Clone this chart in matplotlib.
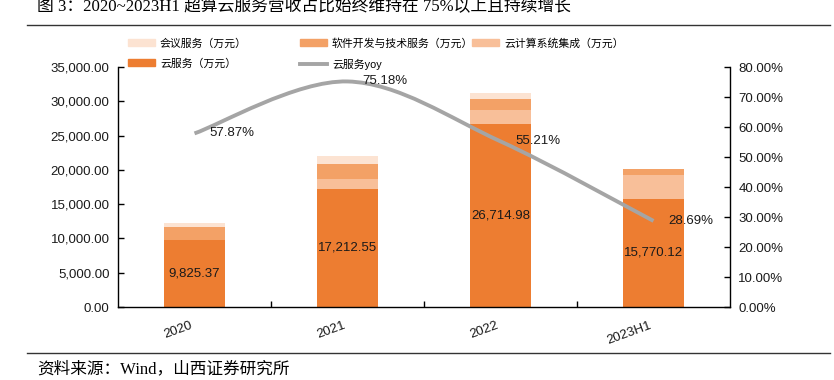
import matplotlib
matplotlib.use("Agg")
import matplotlib.pyplot as plt
from matplotlib.path import Path
from matplotlib.patches import PathPatch, Patch
from matplotlib.lines import Line2D
from matplotlib.ticker import FuncFormatter, FixedLocator

# ---------------- data ----------------
categories = ["2020", "2021", "2022", "2023H1"]
cloud_service = [9825.37, 17212.55, 26714.98, 15770.12]      # 云服务（万元）
cloud_integration = [0, 1460, 1970, 3500]                    # 云计算系统集成（万元）
software_service = [1850, 2230, 1660, 875]                   # 软件开发与技术服务（万元）
meeting_service = [580, 1070, 875, 0]                        # 会议服务（万元）
cloud_yoy = [57.87, 75.18, 55.21, 28.69]                     # 云服务yoy (%)

left_ticks = [0, 5000, 10000, 15000, 20000, 25000, 30000, 35000]
right_ticks = [0, 10, 20, 30, 40, 50, 60, 70, 80]

title_text = "图 3：2020~2023H1 超算云服务营收占比始终维持在 75%以上且持续增长"
source_text = "资料来源：Wind，山西证券研究所"

# ---------------- style ----------------
C_CLOUD = "#ED7D31"
C_INTEG = "#F8BF99"
C_SOFT = "#F3A166"
C_MEET = "#FCE3D2"
C_YOY = "#A5A5A5"

SANS = ["Liberation Sans", "Noto Sans CJK SC", "DejaVu Sans"]
SERIF = ["Liberation Serif", "Noto Sans CJK SC", "DejaVu Sans"]
plt.rcParams["font.family"] = SANS

W, H = 834, 380
fig = plt.figure(figsize=(W / 100, H / 100), dpi=100)

def fx(px):
    return px / W

def fy(py):
    return 1 - py / H

ax = fig.add_axes([fx(118), fy(307), fx(730) - fx(118), fy(67) - fy(307)])
ax2 = ax.twinx()

x = list(range(len(categories)))
bw = 0.4

bottom = [0] * len(x)
ax.bar(x, cloud_service, bw, bottom=bottom, color=C_CLOUD, zorder=2)
bottom = [b + v for b, v in zip(bottom, cloud_service)]
ax.bar(x, cloud_integration, bw, bottom=bottom, color=C_INTEG, zorder=2)
bottom = [b + v for b, v in zip(bottom, cloud_integration)]
ax.bar(x, software_service, bw, bottom=bottom, color=C_SOFT, zorder=2)
bottom = [b + v for b, v in zip(bottom, software_service)]
ax.bar(x, meeting_service, bw, bottom=bottom, color=C_MEET, zorder=2)

for xi, v in zip(x, cloud_service):
    ax.text(xi, v / 2, f"{v:,.2f}", ha="center", va="center",
            fontsize=9.5, color="#1a1a1a", zorder=3)

ax.set_xlim(-0.5, len(categories) - 0.5)
ax.set_ylim(0, 35000)
ax.yaxis.set_major_locator(FixedLocator(left_ticks))
ax.yaxis.set_major_formatter(FuncFormatter(lambda v, p: f"{v:,.2f}"))
ax.set_xticks(x)
ax.set_xticklabels(categories, rotation=20, ha="right")
ax.set_xticks([i + 0.5 for i in x[:-1]], minor=True)
ax.tick_params(axis="x", which="major", length=0, pad=9, labelsize=9.5, colors="#1a1a1a")
ax.tick_params(axis="x", which="minor", direction="in", length=4, width=1, color="black")
ax.tick_params(axis="y", direction="in", length=4, width=1, pad=6, labelsize=9.5,
               labelcolor="#1a1a1a")

ax2.set_ylim(0, 80)
ax2.yaxis.set_major_locator(FixedLocator(right_ticks))
ax2.yaxis.set_major_formatter(FuncFormatter(lambda v, p: f"{v:.2f}%"))
ax2.tick_params(axis="y", direction="in", length=4, width=1, pad=6, labelsize=9.5,
                labelcolor="#1a1a1a")

for a in (ax, ax2):
    a.spines["top"].set_visible(False)
    for s in a.spines.values():
        s.set_linewidth(1)
        s.set_color("black")
ax.spines["right"].set_visible(False)
ax2.spines["left"].set_visible(False)
ax2.spines["bottom"].set_visible(False)

# smoothed yoy line (cubic Bezier through the data points)
pts = list(zip(x, cloud_yoy))
n = len(pts)
verts = [pts[0]]
codes = [Path.MOVETO]
for i in range(n - 1):
    p0 = pts[i - 1] if i > 0 else pts[i]
    p1 = pts[i]
    p2 = pts[i + 1]
    p3 = pts[i + 2] if i + 2 < n else pts[i + 1]
    c1 = (p1[0] + (p2[0] - p0[0]) / 6, p1[1] + (p2[1] - p0[1]) / 6)
    c2 = (p2[0] - (p3[0] - p1[0]) / 6, p2[1] - (p3[1] - p1[1]) / 6)
    verts += [c1, c2, p2]
    codes += [Path.CURVE4] * 3
ax2.add_patch(PathPatch(Path(verts, codes), facecolor="none", edgecolor=C_YOY,
                        lw=2.8, capstyle="butt", zorder=4))
for xi, v in zip(x, cloud_yoy):
    ax2.annotate(f"{v:.2f}%", (xi, v), xytext=(11, 0), textcoords="offset points",
                 ha="left", va="center", fontsize=9.5, color="#1a1a1a", zorder=5)

# legends (three equal-width columns)
leg_kw = dict(loc="upper left", frameon=False, borderpad=0,
              borderaxespad=0, handlelength=2.5, handleheight=0.6,
              handletextpad=0.45, labelspacing=0.9,
              prop={"family": SANS, "size": 7.8})
col1 = [Patch(color=C_MEET), Patch(color=C_CLOUD)]
col2 = [Patch(color=C_SOFT), Line2D([], [], color=C_YOY, lw=2.8)]
col3 = [Patch(color=C_INTEG)]
lab1 = ["会议服务（万元）", "云服务（万元）"]
lab2 = ["软件开发与技术服务（万元）", "云服务yoy"]
lab3 = ["云计算系统集成（万元）"]
for hs, ls, xp in ((col1, lab1, 128), (col2, lab2, 300), (col3, lab3, 472)):
    fig.legend(hs, ls, bbox_to_anchor=(fx(xp), fy(38)), **leg_kw)

# title, rules, source
fig.text(fx(37), fy(7), title_text, ha="left", va="center", fontsize=12.1,
         family=SERIF, color="black")
fig.add_artist(Line2D([fx(27), fx(830)], [fy(25), fy(25)], color="#333333", lw=1))
fig.add_artist(Line2D([fx(27), fx(830)], [fy(352.5), fy(352.5)], color="#333333", lw=1))
fig.text(fx(37), fy(369), source_text, ha="left", va="center", fontsize=12,
         family=SERIF, color="black")

fig.savefig("out.png", dpi=100)
